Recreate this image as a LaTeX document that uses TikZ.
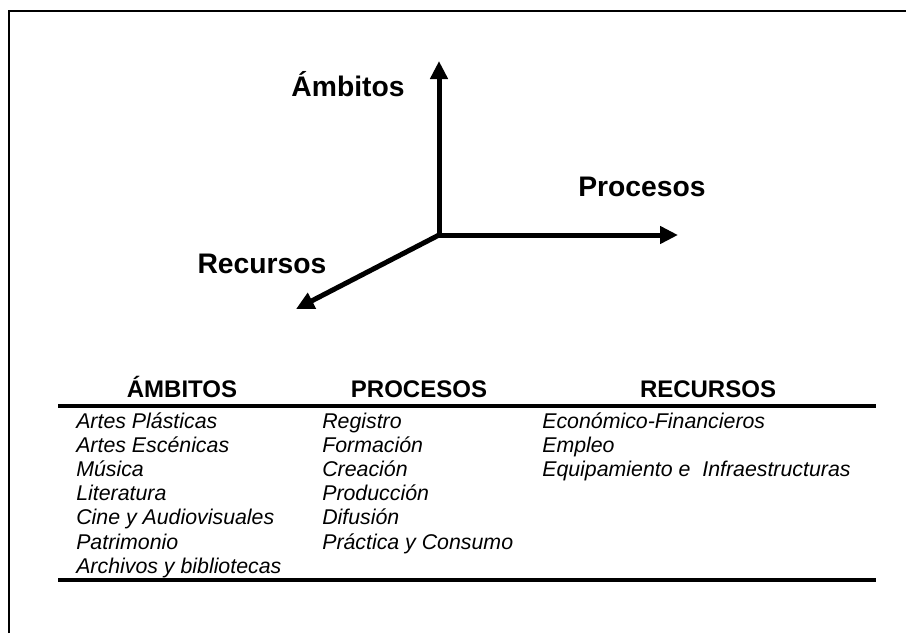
\documentclass[tikz,border=0pt]{standalone}
\usepackage{fontspec}
\setmainfont{Liberation Sans}
\usetikzlibrary{arrows.meta}

\begin{document}
\begin{tikzpicture}[x=0.75pt,y=-0.75pt]
	\tikzstyle{marco}=[line width=1.5pt];
	\tikzstyle{eje}=[line width=3.75pt,-{Triangle[length=13.5pt,width=12.75pt]}];
	\tikzstyle{regla}=[line width=3pt];
	\tikzstyle{rotulo}=[anchor=base,inner sep=0pt,font=\fontsize{21.2}{25}\selectfont\bfseries];
	\tikzstyle{cabeza}=[anchor=base,inner sep=0pt,font=\fontsize{18}{21}\selectfont\bfseries];
	\tikzstyle{item}=[anchor=base west,inner sep=0pt,font=\fontsize{16}{19}\selectfont\itshape];

	\useasboundingbox (0,0) rectangle (906,633);
	\draw[marco] (9,633) -- (9,11) -- (906,11);

	% ejes
	\coordinate (o)   at (439,235);
	\coordinate (amb) at (439,61);
	\coordinate (pro) at (678,235);
	\coordinate (rec) at (296,309);
	\draw[eje] (o) -- (amb);
	\draw[eje] (o) -- (pro);
	\draw[eje] (o) -- (rec);
	\node[rotulo] (tamb) at (348,96)  {Ámbitos};
	\node[rotulo] (tpro) at (642,196) {Procesos};
	\node[rotulo] (trec) at (262,273) {Recursos};

	% tabla
	\node[cabeza] (hamb) at (182,397) {ÁMBITOS};
	\node[cabeza] (hpro) at (419,397) {PROCESOS};
	\node[cabeza] (hrec) at (708,397) {RECURSOS};
	\draw[regla] (58,406) -- (876,406);
	\draw[regla] (58,580) -- (876,580);

	\node[item] (a1) at (76,428)   {Artes Plásticas};
	\node[item] (a2) at (76,452.2) {Artes Escénicas};
	\node[item] (a3) at (76,476.4) {Música};
	\node[item] (a4) at (76,500.6) {Literatura};
	\node[item] (a5) at (76,524.8) {Cine y Audiovisuales};
	\node[item] (a6) at (76,549)   {Patrimonio};
	\node[item] (a7) at (76,573.2) {Archivos y bibliotecas};

	\node[item] (p1) at (322,428)   {Registro};
	\node[item] (p2) at (322,452.2) {Formación};
	\node[item] (p3) at (322,476.4) {Creación};
	\node[item] (p4) at (322,500.6) {Producción};
	\node[item] (p5) at (322,524.8) {Difusión};
	\node[item] (p6) at (322,549)   {Práctica y Consumo};

	\node[item] (r1) at (542,428)   {Económico-Financieros};
	\node[item] (r2) at (542,452.2) {Empleo};
	\node[item] (r3) at (542,476.4) {Equipamiento e\ \ Infraestructuras};
\end{tikzpicture}
\end{document}
